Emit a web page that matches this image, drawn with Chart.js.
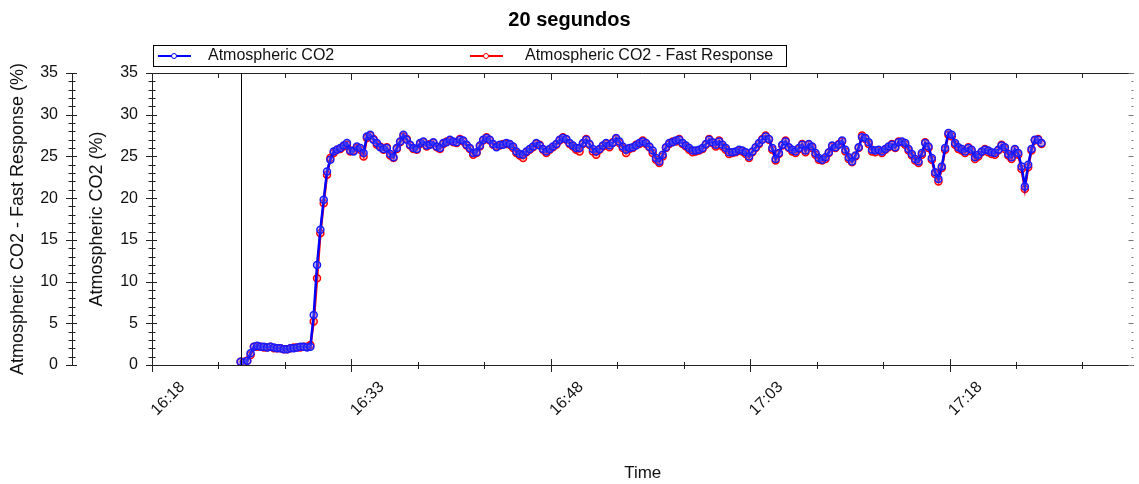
<!DOCTYPE html>
<html>
<head>
<meta charset="utf-8">
<script src="https://cdn.jsdelivr.net/npm/chart.js@4.4.1/dist/chart.umd.min.js"></script>
<style>
  html, body { margin: 0; padding: 0; background: #fff; }
  .chart { position: relative; width: 1139px; height: 484px; }
</style>
</head>
<body>
<div class="chart"><canvas id="myChart"></canvas></div>
<script>
// sampling: one reading every 15 s, first reading at 16:24:40 (minutes after 16:18)
const startMin = 6 + 40 / 60;
const stepMin = 0.25;

const xTickLabels = ["16:18", "16:33", "16:48", "17:03", "17:18"];
const yTicks = [0, 5, 10, 15, 20, 25, 30, 35];

const co2 = [
  0.4, 0.3, 0.5, 1.4,
  2.2, 2.3, 2.2, 2.2, 2.1, 2.2, 2.1, 2.0, 2.0, 1.9, 1.9, 2.0, 2.0, 2.1, 2.2, 2.2, 2.1, 2.2,
  6.0, 12.0, 16.2, 19.8, 23.2, 24.6, 25.6, 25.8,
  26.0, 26.3, 26.6, 25.7, 25.6, 26.2, 26.0, 25.4, 27.4, 27.6,
  27.0, 26.6, 26.1, 25.9, 26.0, 25.3, 24.9, 26.0, 26.8, 27.6,
  27.0, 26.4, 26.0, 25.9, 26.6, 26.8, 26.3, 26.4, 26.7, 26.2,
  26.0, 26.6, 26.7, 27.0, 26.8, 26.7, 27.0, 26.9, 26.4, 26.0,
  25.4, 25.5, 26.3, 27.0, 27.2, 27.0, 26.5, 26.1, 26.4, 26.4,
  26.6, 26.5, 26.2, 25.6, 25.3, 25.2, 25.6, 25.9, 26.2, 26.6,
  26.3, 25.9, 25.6, 25.9, 26.2, 26.5, 27.0, 27.2, 27.1, 26.6,
  26.3, 26.0, 26.0, 26.6, 27.0, 26.5, 25.9, 25.6, 25.9, 26.3,
  26.6, 26.3, 26.6, 27.2, 26.8, 26.2, 25.8, 26.0, 26.1, 26.3,
  26.6, 26.8, 26.6, 26.2, 25.7, 24.8, 24.4, 25.2, 26.1, 26.6,
  26.7, 26.9, 27.0, 26.6, 26.3, 26.0, 25.7, 25.7, 25.8, 26.0,
  26.5, 27.0, 26.7, 26.4, 26.8, 26.4, 26.0, 25.5, 25.5, 25.6,
  25.8, 25.7, 25.5, 25.0, 25.6, 26.1, 26.6, 27.0, 27.4, 27.1,
  26.0, 24.7, 25.4, 26.4, 26.8, 26.1, 25.8, 25.6, 26.0, 26.4,
  25.7, 26.5, 26.2, 25.4, 24.8, 24.6, 24.9, 25.5, 26.3, 26.1,
  26.4, 26.9, 25.8, 24.9, 24.4, 25.1, 26.1, 27.3, 27.2, 26.7,
  25.8, 25.7, 25.8, 25.6, 25.9, 26.2, 26.4, 26.1, 26.7, 26.8,
  26.6, 25.9, 25.3, 24.7, 24.4, 25.4, 26.6, 26.2, 24.8, 23.1,
  22.3, 23.8, 26.0, 27.8, 27.6, 26.6, 26.1, 25.9, 25.6, 26.0,
  25.8, 24.9, 25.2, 25.6, 25.8, 25.7, 25.5, 25.4, 25.8, 26.3,
  26.1, 25.3, 24.9, 25.9, 25.4, 23.8, 21.4, 24.0, 25.9, 27.0,
  27.0, 26.6
];

const co2Fast = [
  0.4, 0.4, 0.5, 1.2,
  2.2, 2.2, 2.2, 2.1, 2.1, 2.2, 2.0, 2.0, 2.0, 1.9, 1.9, 2.0, 2.1, 2.1, 2.1, 2.2, 2.2, 2.4,
  5.2, 10.4, 15.8, 19.4, 22.8, 24.8, 25.4, 25.8,
  25.9, 26.2, 26.4, 25.6, 25.7, 26.0, 25.8, 25.0, 27.2, 27.5,
  27.1, 26.4, 26.2, 25.8, 26.1, 25.1, 24.8, 25.9, 26.7, 27.4,
  27.1, 26.3, 25.9, 25.8, 26.5, 26.7, 26.2, 26.5, 26.6, 26.1,
  25.9, 26.5, 26.8, 26.9, 26.7, 26.6, 27.1, 26.8, 26.3, 25.9,
  25.2, 25.4, 26.2, 26.9, 27.3, 26.9, 26.4, 26.2, 26.3, 26.5,
  26.5, 26.4, 26.0, 25.4, 25.1, 24.8, 25.5, 25.8, 26.1, 26.5,
  26.4, 25.8, 25.4, 25.8, 26.1, 26.4, 26.9, 27.3, 27.0, 26.5,
  26.2, 25.8, 25.6, 26.5, 27.1, 26.4, 25.6, 25.2, 25.8, 26.2,
  26.5, 26.1, 26.7, 27.1, 26.6, 26.0, 25.4, 25.9, 26.0, 26.4,
  26.5, 26.9, 26.5, 26.1, 25.4, 24.6, 24.2, 25.0, 26.0, 26.5,
  26.8, 26.8, 27.1, 26.5, 26.2, 25.8, 25.5, 25.6, 25.7, 25.9,
  26.4, 27.1, 26.6, 26.2, 26.9, 26.2, 25.8, 25.3, 25.4, 25.5,
  25.7, 25.6, 25.3, 24.8, 25.5, 26.0, 26.5, 27.1, 27.5, 27.0,
  25.8, 24.5, 25.3, 26.3, 26.9, 26.0, 25.6, 25.4, 25.9, 26.5,
  25.5, 26.4, 26.0, 25.2, 24.6, 24.5, 24.7, 25.4, 26.2, 26.0,
  26.5, 26.8, 25.6, 24.7, 24.3, 25.0, 26.0, 27.5, 27.1, 26.5,
  25.6, 25.5, 25.7, 25.4, 25.8, 26.1, 26.5, 26.0, 26.8, 26.7,
  26.4, 25.7, 25.1, 24.5, 24.2, 25.2, 26.7, 26.0, 24.6, 22.9,
  22.0, 23.6, 25.8, 27.6, 27.4, 26.4, 25.9, 25.7, 25.4, 26.1,
  25.6, 24.7, 25.0, 25.5, 25.9, 25.5, 25.3, 25.2, 25.7, 26.4,
  25.9, 25.1, 24.7, 25.8, 25.2, 23.5, 21.1, 23.7, 25.7, 26.9,
  27.1, 26.5
];

const times = co2.map((_, i) => startMin + i * stepMin);

const FONT = "'Liberation Sans', Arial, sans-serif";
Chart.defaults.font.family = FONT;
Chart.defaults.color = "#111";

const line = (ctx, x1, y1, x2, y2) => {
  ctx.beginPath();
  ctx.moveTo(x1, y1);
  ctx.lineTo(x2, y2);
  ctx.stroke();
};

// frame, tick marks, rotated time labels and the boxed legend
const framePlugin = {
  id: "frame",
  afterDraw(chart) {
    const { ctx, chartArea: a, scales } = chart;
    const x = scales.x;
    ctx.save();
    ctx.strokeStyle = "#222";
    ctx.lineWidth = 1;

    line(ctx, a.left, a.top + 0.5, a.right, a.top + 0.5);

    for (let m = 0; m <= x.max; m += 5) {
      const px = Math.round(x.getPixelForValue(m)) + 0.5;
      const major = m % 15 === 0;
      line(ctx, px, a.bottom - (major ? 6 : 3), px, a.bottom + (major ? 7 : 4));
      line(ctx, px, a.top, px, a.top + (major ? 7 : 5));
    }

    for (let v = 0; v <= 35; v++) {
      const major = v % 5 === 0;
      [scales.y, scales.y2].forEach(s => {
        const py = Math.round(s.getPixelForValue(v)) + 0.5;
        const ax = s.right;
        line(ctx, ax - (major ? 6 : 3.5), py, ax + (major ? 5 : 3.5), py);
      });
      const py = Math.round(scales.y.getPixelForValue(v)) + 0.5;
      ctx.strokeStyle = "#777";
      line(ctx, a.right - (major ? 5 : 2), py, a.right, py);
      ctx.strokeStyle = "#222";
    }

    // start marker
    const sx = Math.round(x.getPixelForValue(times[0])) + 0.5;
    ctx.strokeStyle = "#000";
    line(ctx, sx, a.top, sx, a.bottom);

    // time labels
    ctx.fillStyle = "#111";
    ctx.font = "16px " + FONT;
    ctx.textAlign = "left";
    ctx.textBaseline = "alphabetic";
    xTickLabels.forEach((lab, i) => {
      const px = x.getPixelForValue(i * 15);
      ctx.save();
      ctx.translate(px + 5, a.bottom + 51);
      ctx.rotate(-Math.PI / 4);
      ctx.fillText(lab, 0, 0);
      ctx.restore();
    });

    // legend
    ctx.strokeStyle = "#000";
    ctx.strokeRect(153.5, 45.5, 633, 21);
    ctx.font = "16px " + FONT;
    ctx.textBaseline = "middle";
    chart.data.datasets.forEach((ds, i) => {
      const lx = i === 0 ? 158 : 470;
      ctx.strokeStyle = ds.borderColor;
      ctx.lineWidth = 2;
      line(ctx, lx, 56, lx + 33, 56);
      ctx.lineWidth = 1;
      ctx.fillStyle = "#fff";
      ctx.beginPath();
      ctx.arc(lx + 16, 56, 2.5, 0, Math.PI * 2);
      ctx.fill();
      ctx.stroke();
      ctx.fillStyle = "#111";
      ctx.fillText(ds.label, lx + (i === 0 ? 50 : 55), 56);
    });
    ctx.restore();
  }
};

const config = {
  type: "line",
  data: {
    datasets: [
      {
        label: "Atmospheric CO2",
        data: co2.map((v, i) => ({ x: times[i], y: v })),
        yAxisID: "y",
        borderColor: "#0000ff",
        borderWidth: 2.5,
        pointRadius: 3.5,
        pointBorderWidth: 1.5,
        pointBorderColor: "#1a1aff",
        pointBackgroundColor: "rgba(110,110,255,0.35)",
        tension: 0
      },
      {
        label: "Atmospheric CO2 - Fast Response",
        data: co2Fast.map((v, i) => ({ x: times[i], y: v })),
        yAxisID: "y2",
        borderColor: "#ff0000",
        borderWidth: 2.5,
        pointRadius: 3.5,
        pointBorderWidth: 1.5,
        pointBorderColor: "#ff0000",
        pointBackgroundColor: "rgba(255,110,110,0.35)",
        tension: 0
      }
    ]
  },
  options: {
    responsive: true,
    maintainAspectRatio: false,
    animation: false,
    layout: { padding: { left: 0, right: 0, top: 0, bottom: 0 } },
    plugins: {
      legend: { display: false },
      tooltip: { enabled: false },
      title: {
        display: true,
        text: "20 segundos",
        color: "#000",
        font: { size: 20, weight: "bold" },
        padding: { top: 8, bottom: 41 }
      }
    },
    scales: {
      x: {
        type: "linear",
        min: 0,
        max: 73.84,
        grid: { display: false },
        border: { display: true, color: "#222", width: 1 },
        ticks: { display: false, stepSize: 5 },
        title: { display: true, text: "Time", font: { size: 17 }, padding: { top: 0, bottom: 0 } },
        afterFit: s => { s.height = 119; }
      },
      y: {
        position: "left",
        weight: 0,
        min: 0,
        max: 35,
        grid: { display: false },
        border: { display: true, color: "#222", width: 1 },
        ticks: { stepSize: 5, padding: 6, font: { size: 16 } },
        title: { display: true, text: "Atmospheric CO2 (%)", font: { size: 18 }, padding: { top: 14, bottom: 0 } },
        afterFit: s => { s.width = 80; }
      },
      y2: {
        position: "left",
        weight: 1,
        min: 0,
        max: 35,
        grid: { display: false },
        border: { display: true, color: "#222", width: 1 },
        ticks: { stepSize: 5, padding: 6, font: { size: 16 } },
        title: { display: true, text: "Atmospheric CO2 - Fast Response (%)", font: { size: 18 }, padding: { top: 7, bottom: 0 } },
        afterFit: s => { s.width = 72; }
      }
    }
  },
  plugins: [framePlugin]
};

new Chart(document.getElementById("myChart"), config);
</script>
</body>
</html>
